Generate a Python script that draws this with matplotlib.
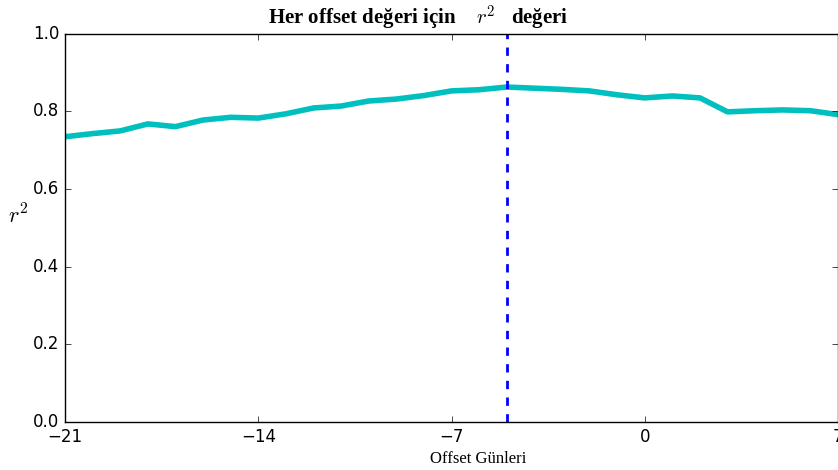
import matplotlib
matplotlib.use("Agg")
import matplotlib.pyplot as plt

# offset günleri ve r^2 değerleri
offset_gunleri = list(range(-21, 8))
r2_degerleri = [0.735, 0.743, 0.750, 0.768, 0.761, 0.778, 0.785, 0.783, 0.794,
                0.809, 0.814, 0.827, 0.832, 0.841, 0.853, 0.856, 0.863, 0.860,
                0.857, 0.853, 0.843, 0.835, 0.840, 0.835, 0.799, 0.802, 0.804,
                0.802, 0.792]
en_iyi_offset = -5
x_ticks = [-21, -14, -7, 0, 7]
y_ticks = [0.0, 0.2, 0.4, 0.6, 0.8, 1.0]

plt.style.use("classic")
plt.rcParams["mathtext.fontset"] = "cm"

fig = plt.figure(figsize=(8.38, 4.7), dpi=100, facecolor="white")
ax = fig.add_axes([0.0776, 0.102, 0.9224, 0.826])

ax.plot(offset_gunleri, r2_degerleri, color="c", lw=4)
ax.axvline(en_iyi_offset, color="b", ls="--", lw=2)

ax.set_xlim(-21, 7)
ax.set_ylim(0, 1)
ax.set_xticks(x_ticks)
ax.set_yticks(y_ticks)
ax.tick_params(labelsize=12)

# başlık biraz sola kaymış
ax.set_title("Her offset değeri için    $r^2$   değeri", fontsize=15,
             fontweight="bold", family="Liberation Serif", x=0.457, y=1.005)
ax.set_xlabel("Offset Günleri", fontsize=12, family="Liberation Serif")
ax.xaxis.set_label_coords(0.534, -0.074)
ax.set_ylabel("$r^2$", fontsize=16, rotation=0)
ax.yaxis.set_label_coords(-0.06, 0.5)

fig.savefig("out.png", dpi=100, facecolor="white")
